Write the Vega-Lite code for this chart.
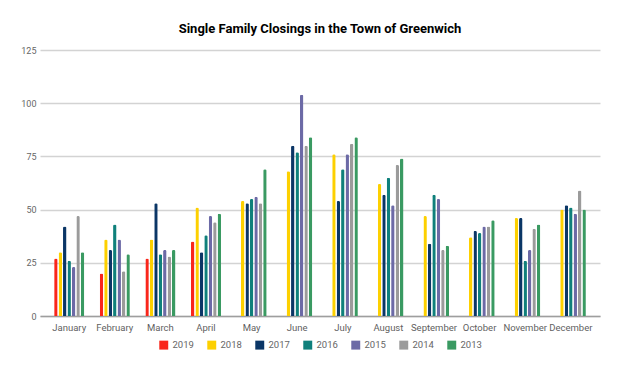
{
  "$schema": "https://vega.github.io/schema/vega-lite/v6.json",
  "autosize": "none",
  "width": 560,
  "height": 266,
  "padding": {"left": 40, "top": 50, "right": 22, "bottom": 55},
  "background": "white",
  "title": {
    "text": "Single Family Closings in the Town of Greenwich",
    "font": "Roboto",
    "fontSize": 13,
    "fontWeight": "bold",
    "color": "#000000",
    "anchor": "middle",
    "offset": 10
  },
  "data": {
    "values": [
      {"month": "January", "year": "2019", "v": 27},
      {"month": "January", "year": "2018", "v": 30},
      {"month": "January", "year": "2017", "v": 42},
      {"month": "January", "year": "2016", "v": 26},
      {"month": "January", "year": "2015", "v": 23},
      {"month": "January", "year": "2014", "v": 47},
      {"month": "January", "year": "2013", "v": 30},
      {"month": "February", "year": "2019", "v": 20},
      {"month": "February", "year": "2018", "v": 36},
      {"month": "February", "year": "2017", "v": 31},
      {"month": "February", "year": "2016", "v": 43},
      {"month": "February", "year": "2015", "v": 36},
      {"month": "February", "year": "2014", "v": 21},
      {"month": "February", "year": "2013", "v": 29},
      {"month": "March", "year": "2019", "v": 27},
      {"month": "March", "year": "2018", "v": 36},
      {"month": "March", "year": "2017", "v": 53},
      {"month": "March", "year": "2016", "v": 29},
      {"month": "March", "year": "2015", "v": 31},
      {"month": "March", "year": "2014", "v": 28},
      {"month": "March", "year": "2013", "v": 31},
      {"month": "April", "year": "2019", "v": 35},
      {"month": "April", "year": "2018", "v": 51},
      {"month": "April", "year": "2017", "v": 30},
      {"month": "April", "year": "2016", "v": 38},
      {"month": "April", "year": "2015", "v": 47},
      {"month": "April", "year": "2014", "v": 44},
      {"month": "April", "year": "2013", "v": 48},
      {"month": "May", "year": "2018", "v": 54},
      {"month": "May", "year": "2017", "v": 53},
      {"month": "May", "year": "2016", "v": 55},
      {"month": "May", "year": "2015", "v": 56},
      {"month": "May", "year": "2014", "v": 53},
      {"month": "May", "year": "2013", "v": 69},
      {"month": "June", "year": "2018", "v": 68},
      {"month": "June", "year": "2017", "v": 80},
      {"month": "June", "year": "2016", "v": 77},
      {"month": "June", "year": "2015", "v": 104},
      {"month": "June", "year": "2014", "v": 80},
      {"month": "June", "year": "2013", "v": 84},
      {"month": "July", "year": "2018", "v": 76},
      {"month": "July", "year": "2017", "v": 54},
      {"month": "July", "year": "2016", "v": 69},
      {"month": "July", "year": "2015", "v": 76},
      {"month": "July", "year": "2014", "v": 81},
      {"month": "July", "year": "2013", "v": 84},
      {"month": "August", "year": "2018", "v": 62},
      {"month": "August", "year": "2017", "v": 57},
      {"month": "August", "year": "2016", "v": 65},
      {"month": "August", "year": "2015", "v": 52},
      {"month": "August", "year": "2014", "v": 71},
      {"month": "August", "year": "2013", "v": 74},
      {"month": "September", "year": "2018", "v": 47},
      {"month": "September", "year": "2017", "v": 34},
      {"month": "September", "year": "2016", "v": 57},
      {"month": "September", "year": "2015", "v": 55},
      {"month": "September", "year": "2014", "v": 31},
      {"month": "September", "year": "2013", "v": 33},
      {"month": "October", "year": "2018", "v": 37},
      {"month": "October", "year": "2017", "v": 40},
      {"month": "October", "year": "2016", "v": 39},
      {"month": "October", "year": "2015", "v": 42},
      {"month": "October", "year": "2014", "v": 42},
      {"month": "October", "year": "2013", "v": 45},
      {"month": "November", "year": "2018", "v": 46},
      {"month": "November", "year": "2017", "v": 46},
      {"month": "November", "year": "2016", "v": 26},
      {"month": "November", "year": "2015", "v": 31},
      {"month": "November", "year": "2014", "v": 41},
      {"month": "November", "year": "2013", "v": 43},
      {"month": "December", "year": "2018", "v": 50},
      {"month": "December", "year": "2017", "v": 52},
      {"month": "December", "year": "2016", "v": 51},
      {"month": "December", "year": "2015", "v": 48},
      {"month": "December", "year": "2014", "v": 59},
      {"month": "December", "year": "2013", "v": 50}
    ]
  },
  "mark": {"type": "bar", "cornerRadiusTopLeft": 1.5, "cornerRadiusTopRight": 1.5},
  "encoding": {
    "x": {
      "field": "month",
      "type": "nominal",
      "sort": ["January","February","March","April","May","June","July","August","September","October","November","December"],
      "scale": {"paddingInner": 0.34, "paddingOuter": 0.31},
      "axis": {
        "title": null,
        "labelAngle": 0,
        "labelFont": "Roboto",
        "labelFontSize": 9.5,
        "labelColor": "#5f5f5f",
        "labelPadding": 6,
        "ticks": false,
        "domain": true,
        "domainColor": "#9e9e9e",
        "domainWidth": 1.5,
        "grid": false
      }
    },
    "xOffset": {
      "field": "year",
      "type": "nominal",
      "sort": ["2019","2018","2017","2016","2015","2014","2013"],
      "scale": {"paddingInner": 0.22, "domain": ["2019","2018","2017","2016","2015","2014","2013"]}
    },
    "y": {
      "field": "v",
      "type": "quantitative",
      "scale": {"domain": [0, 125], "nice": false},
      "axis": {
        "title": null,
        "values": [0, 25, 50, 75, 100, 125],
        "labelFont": "Roboto",
        "labelFontSize": 9,
        "labelColor": "#666666",
        "labelPadding": 4,
        "ticks": false,
        "domain": false,
        "gridColor": "#d3d3d3",
        "gridWidth": 1.5
      }
    },
    "color": {
      "field": "year",
      "type": "nominal",
      "sort": ["2019","2018","2017","2016","2015","2014","2013"],
      "scale": {
        "domain": ["2019","2018","2017","2016","2015","2014","2013"],
        "range": ["#f9261b","#fdd000","#0b3666","#0f807b","#6c6aa6","#9b9b9b","#3a9a62"]
      },
      "legend": {
        "title": null,
        "orient": "bottom",
        "direction": "horizontal",
        "symbolType": "square",
        "symbolSize": 80,
        "symbolStrokeWidth": 0,
        "labelFont": "Roboto",
        "labelFontSize": 9.5,
        "labelColor": "#666666",
        "columnPadding": 13,
        "offset": 8
      }
    }
  },
  "config": {
    "view": {"stroke": null},
    "legend": {"layout": {"bottom": {"anchor": "middle"}}}
  }
}
